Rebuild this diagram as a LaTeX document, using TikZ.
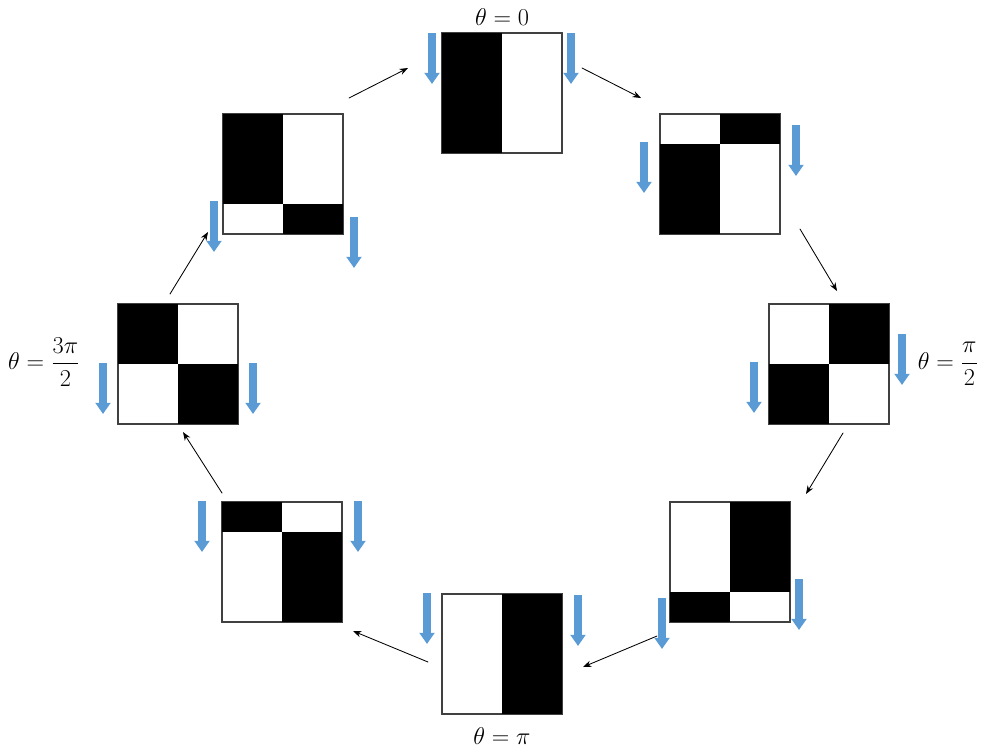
\documentclass[tikz,border=0pt]{standalone}
\usepackage{amsmath}
\usetikzlibrary{arrows.meta,calc}
\definecolor{dropblue}{RGB}{91,155,213}

\begin{document}
\begin{tikzpicture}[x=0.025cm,y=-0.025cm,line cap=round,line join=round,
  cell/.style={draw=black!75,line width=0.9pt,minimum size=3cm,inner sep=0pt},
  fall/.style={draw=dropblue,line width=5pt,line cap=butt,-{Triangle[width=10.5pt,length=8pt]}},
  link/.style={line width=0.6pt,-{Stealth[length=6pt,width=4.5pt]}},
  every node/.style={font=\LARGE}]
\useasboundingbox (0,0) rectangle (986,752);

% the eight frames
\node[cell] (b1) at (502,93) {};
\node[cell] (b2) at (720,174) {};
\node[cell] (b3) at (829,364) {};
\node[cell] (b4) at (730,562) {};
\node[cell] (b5) at (502,654) {};
\node[cell] (b6) at (282,562) {};
\node[cell] (b7) at (178,364) {};
\node[cell] (b8) at (283,174) {};

% black parts
\fill (b1.north west) rectangle (b1.south);
\fill (b2.north) rectangle ($(b2.north east)!.25!(b2.south east)$);
\fill ($(b2.north west)!.25!(b2.south west)$) rectangle (b2.south);
\fill (b3.north) rectangle (b3.east);
\fill (b3.west) rectangle (b3.south);
\fill (b4.north) rectangle ($(b4.north east)!.75!(b4.south east)$);
\fill ($(b4.north west)!.75!(b4.south west)$) rectangle (b4.south);
\fill (b5.north) rectangle (b5.south east);
\fill (b6.north west) rectangle ($(b6.north)!.25!(b6.south)$);
\fill ($(b6.north)!.25!(b6.south)$) rectangle (b6.south east);
\fill (b7.north west) rectangle (b7.center);
\fill (b7.center) rectangle (b7.south east);
\fill (b8.north west) rectangle ($(b8.north)!.75!(b8.south)$);
\fill ($(b8.north)!.75!(b8.south)$) rectangle (b8.south east);

% outlines again on top
\foreach \b in {b1,b2,b3,b4,b5,b6,b7,b8}
  \draw[black!75,line width=0.9pt] (\b.north west) rectangle (\b.south east);

% blue arrows
\draw[fall] (432,33) -- (432,84);
\draw[fall] (571,33) -- (571,84);
\draw[fall] (644,142) -- (644,193);
\draw[fall] (796,125) -- (796,176);
\draw[fall] (754,362) -- (754,413);
\draw[fall] (902,334) -- (902,385);
\draw[fall] (662,598) -- (662,649);
\draw[fall] (799,579) -- (799,630);
\draw[fall] (427,593) -- (427,644);
\draw[fall] (578,595) -- (578,646);
\draw[fall] (202,501) -- (202,552);
\draw[fall] (358,501) -- (358,552);
\draw[fall] (103,363) -- (103,414);
\draw[fall] (253,363) -- (253,414);
\draw[fall] (214,201) -- (214,252);
\draw[fall] (354,217) -- (354,268);

% labels
\node (t0) at (502,17) {$\theta=0$};
\node (t1) at (948,364) {$\theta=\dfrac{\pi}{2}$};
\node (t2) at (502,736) {$\theta=\pi$};
\node (t3) at (44,362) {$\theta=\dfrac{3\pi}{2}$};

% turning order
\coordinate (s1) at (582,68);  \coordinate (e1) at (641,98);
\coordinate (s2) at (800,229); \coordinate (e2) at (837,291);
\coordinate (s3) at (843,433); \coordinate (e3) at (806,494);
\coordinate (s4) at (657,636); \coordinate (e4) at (583,667);
\coordinate (s5) at (428,662); \coordinate (e5) at (353,631);
\coordinate (s6) at (222,493); \coordinate (e6) at (183,432);
\coordinate (s7) at (170,294); \coordinate (e7) at (208,232);
\coordinate (s8) at (349,98);  \coordinate (e8) at (408,68);
\foreach \i in {1,...,8}
  \draw[link] (s\i) -- (e\i);
\end{tikzpicture}
\end{document}
